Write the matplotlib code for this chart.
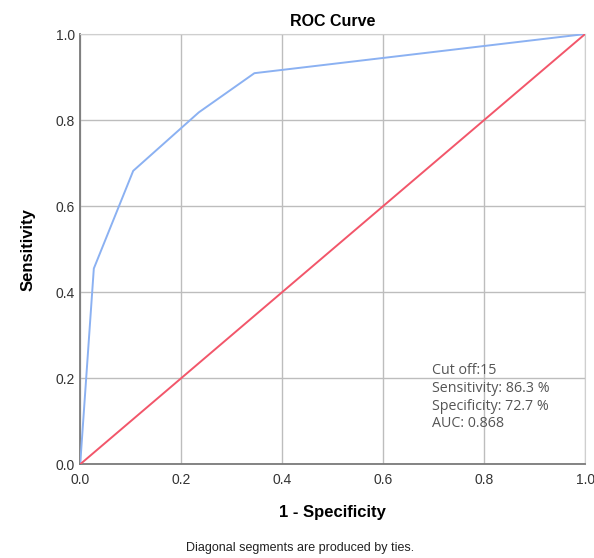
import matplotlib
matplotlib.use('Agg')
import matplotlib.pyplot as plt

# ROC points
fpr = [0.0, 0.027, 0.105, 0.235, 0.345, 1.0]
tpr = [0.0, 0.455, 0.682, 0.818, 0.909, 1.0]
ref_x = [0.0, 1.0]
ref_y = [0.0, 1.0]
ticks = [0.0, 0.2, 0.4, 0.6, 0.8, 1.0]
info = ['Cut off:15', 'Sensitivity: 86.3 %', 'Specificity: 72.7 %', 'AUC: 0.868']

plt.rcParams['font.family'] = ['Liberation Sans', 'DejaVu Sans']

fig = plt.figure(figsize=(5.94, 5.58), dpi=100)
ax = fig.add_axes([0.135, 0.168, 0.850, 0.771])

ax.plot(fpr, tpr, color='#8BB1F2', lw=1.4, zorder=3)
ax.plot(ref_x, ref_y, color='#F2566A', lw=1.4, zorder=3)

ax.set_xlim(0, 1)
ax.set_ylim(0, 1)
ax.set_xticks(ticks)
ax.set_yticks(ticks)
ax.set_xticklabels(['%.1f' % t for t in ticks])
ax.set_yticklabels(['%.1f' % t for t in ticks])
ax.grid(True, color='#BDBDBD', lw=1.0)
ax.set_axisbelow(True)
for s in ['top', 'right']:
    ax.spines[s].set_color('#CFCFCF')
for s in ['left', 'bottom']:
    ax.spines[s].set_color('#7A7A7A')
    ax.spines[s].set_linewidth(1.3)
ax.tick_params(length=0, labelsize=10, colors='#333333')
ax.tick_params(axis='x', pad=6)
ax.tick_params(axis='y', pad=4)

ax.set_title('ROC Curve', fontsize=11.5, fontweight='bold', pad=6)
ax.set_xlabel('1 - Specificity', fontsize=12, fontweight='bold', labelpad=13)
ax.set_ylabel('Sensitivity', fontsize=12, fontweight='bold', labelpad=14)

ax.text(0.697, 0.235, '\n'.join(info), transform=ax.transAxes, fontsize=10.3,
        color='#555555', va='top', ha='left', linespacing=1.25,
        family=['Open Sans', 'DejaVu Sans'])

fig.text(0.505, 0.012, 'Diagonal segments are produced by ties.',
         ha='center', fontsize=9, color='#222222')

fig.savefig('out.png', dpi=100)
